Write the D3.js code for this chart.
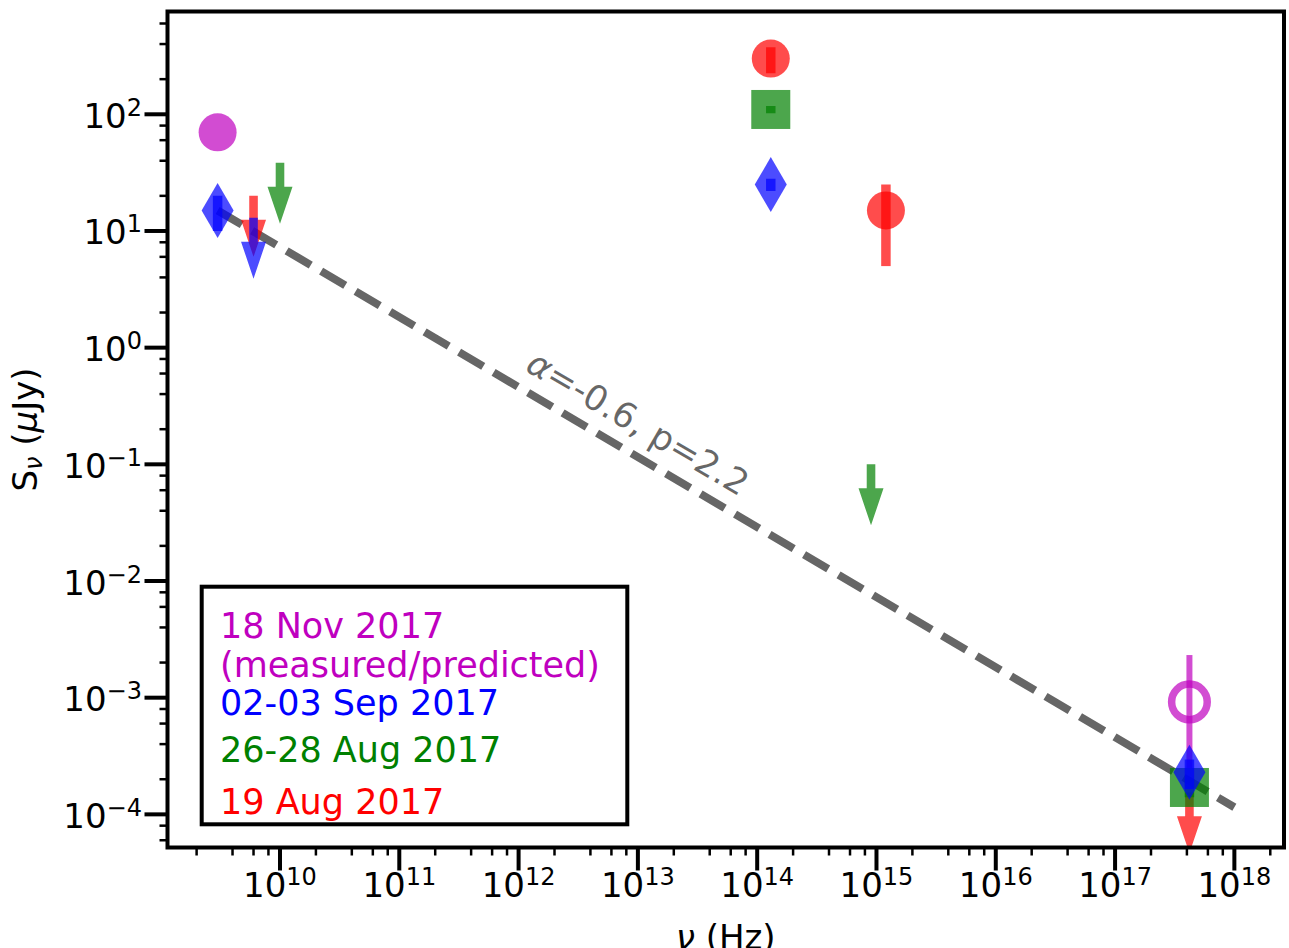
<!DOCTYPE html>
<html><head><meta charset="utf-8">
<script src="https://cdn.jsdelivr.net/npm/d3@7"></script>
<style>
body{margin:0;background:#fff}
svg{display:block;font-family:"DejaVu Sans",sans-serif}
</style>
</head><body>
<svg id="c" width="1289" height="948"></svg>
<script>
// ---------- data ----------
const xTickExps = [10, 11, 12, 13, 14, 15, 16, 17, 18];
const yTickExps = [-4, -3, -2, -1, 0, 1, 2];
const minorSubs = [2, 4, 6, 8];

// 19 Aug 2017 (red)
const redDetNu = [1.3e14, 1.2e15];
const redDetS = [300, 15];
const redDetErr = [75, 10];
const redLimNu = [6e9, 4.2e17];
const redLimS = [20, 1.55e-4];

// 26-28 Aug 2017 (green)
const greenDetNu = [1.3e14, 4.2e17];
const greenDetS = [110, 1.7e-4];
const greenDetErr = [8, 0.3e-4];
const greenLimNu = [1e10, 9e14];
const greenLimS = [38.5, 0.1];

// 02-03 Sep 2017 (blue)
const blueDetNu = [3e9, 1.3e14, 4.2e17];
const blueDetS = [15, 25, 2.3e-4];
const blueDetErr = [5, 3, 0.65e-4];
const blueLimNu = [6e9];
const blueLimS = [13];

// 18 Nov 2017 (magenta): measured radio, predicted X-ray
const magMeasNu = [3e9];
const magMeasS = [70];
const magPredNu = [4.2e17];
const magPredS = [9.2e-4];
const magPredErrUp = [1.4e-3];
const magPredErrDn = [6.7e-4];

// power law alpha=-0.6
const plawNu = [3e9, 1e18];
const plawS = [15, 1.15e-4];
const plawLabel = "=-0.6, p=2.2";

const legendLabels = ["18 Nov 2017", "(measured/predicted)", "02-03 Sep 2017", "26-28 Aug 2017", "19 Aug 2017"];
const legendColors = ["#bf00bf", "#bf00bf", "#0000ff", "#008000", "#ff0000"];

// ---------- layout ----------
const L = 167.5, R = 1284, T = 11.5, B = 847.5;
const svg = d3.select("#c");
const x = d3.scaleLog().domain([Math.pow(10, 9.057), Math.pow(10, 18.416)]).range([L, R]);
const y = d3.scaleLog().domain([Math.pow(10, -4.284), Math.pow(10, 2.881)]).range([B, T]);

const C = {red: "#ff0000", green: "#008000", blue: "#0000ff", mag: "#bf00bf"};
const A = 0.7;

svg.append("defs").append("clipPath").attr("id", "clip")
  .append("rect").attr("x", L).attr("y", T).attr("width", R - L).attr("height", B - T);

const plot = svg.append("g").attr("clip-path", "url(#clip)");

// power law line
plot.append("path")
  .attr("d", d3.line().x(d => x(d[0])).y(d => y(d[1]))(plawNu.map((n, i) => [n, plawS[i]])))
  .attr("stroke", "#000").attr("stroke-opacity", 0.6).attr("stroke-width", 8)
  .attr("stroke-dasharray", "28,12").attr("fill", "none");

// marker helpers
function errbar(g, nu, lo, hi, color, w) {
  g.append("line").attr("x1", x(nu)).attr("x2", x(nu)).attr("y1", y(hi)).attr("y2", y(lo))
    .attr("stroke", color).attr("stroke-opacity", A).attr("stroke-width", w);
}
function circle(g, nu, s, color) {
  g.append("circle").attr("cx", x(nu)).attr("cy", y(s)).attr("r", 19)
    .attr("fill", color).attr("fill-opacity", A);
}
function square(g, nu, s, color) {
  g.append("rect").attr("x", x(nu) - 19.5).attr("y", y(s) - 19.5).attr("width", 39).attr("height", 39)
    .attr("fill", color).attr("fill-opacity", A);
}
function diamond(g, nu, s, color) {
  const cx = x(nu), cy = y(s);
  g.append("path").attr("d", `M${cx},${cy - 27.5}L${cx + 16},${cy}L${cx},${cy + 27.5}L${cx - 16},${cy}Z`)
    .attr("fill", color).attr("fill-opacity", A);
}
function arrow(g, nu, s, color) {
  const cx = x(nu), y0 = y(s), sw = 4.3, hw = 12.5, sh = 24, hh = 37;
  g.append("path").attr("d",
    `M${cx - sw},${y0}L${cx + sw},${y0}L${cx + sw},${y0 + sh}L${cx + hw},${y0 + sh}L${cx},${y0 + sh + hh}L${cx - hw},${y0 + sh}L${cx - sw},${y0 + sh}Z`)
    .attr("fill", color).attr("fill-opacity", A);
}

// red
redLimNu.forEach((n, i) => arrow(plot, n, redLimS[i], C.red));
redDetNu.forEach((n, i) => {
  circle(plot, n, redDetS[i], C.red);
  errbar(plot, n, redDetS[i] - redDetErr[i], redDetS[i] + redDetErr[i], C.red, 9.5);
});
// green
greenLimNu.forEach((n, i) => arrow(plot, n, greenLimS[i], C.green));
greenDetNu.forEach((n, i) => {
  square(plot, n, greenDetS[i], C.green);
  errbar(plot, n, greenDetS[i] - greenDetErr[i], greenDetS[i] + greenDetErr[i], C.green, 9.5);
});
// magenta
magMeasNu.forEach((n, i) => circle(plot, n, magMeasS[i], C.mag));
magPredNu.forEach((n, i) => {
  errbar(plot, n, magPredS[i] - magPredErrDn[i], magPredS[i] + magPredErrUp[i], C.mag, 6);
  plot.append("circle").attr("cx", x(n)).attr("cy", y(magPredS[i])).attr("r", 17.8)
    .attr("fill", "none").attr("stroke", C.mag).attr("stroke-opacity", A).attr("stroke-width", 7.5);
});
// blue
blueLimNu.forEach((n, i) => arrow(plot, n, blueLimS[i], C.blue));
blueDetNu.forEach((n, i) => {
  diamond(plot, n, blueDetS[i], C.blue);
  errbar(plot, n, blueDetS[i] - blueDetErr[i], blueDetS[i] + blueDetErr[i], C.blue, 9.5);
});

// power-law label
{
  const ang = Math.atan2(y(plawS[1]) - y(plawS[0]), x(plawNu[1]) - x(plawNu[0])) * 180 / Math.PI;
  const tx = x(1e13), ty = y(0.226);
  const t = svg.append("text").attr("transform", `translate(${tx},${ty}) rotate(${ang})`)
    .attr("text-anchor", "middle").attr("dominant-baseline", "central")
    .attr("font-size", 35).attr("fill", "#000").attr("fill-opacity", 0.6);
  t.append("tspan").attr("font-style", "italic").text("α");
  t.append("tspan").text(plawLabel);
}

// ---------- axes ----------
const axes = svg.append("g");
// x ticks
const xMajor = xTickExps.map(e => Math.pow(10, e));
const xMinor = [];
for (let e = 9; e <= 18; e++) minorSubs.forEach(s => { const v = s * Math.pow(10, e); if (v >= x.domain()[0] && v <= x.domain()[1]) xMinor.push(v); });
axes.selectAll(".xmin").data(xMinor).enter().append("line")
  .attr("x1", d => x(d)).attr("x2", d => x(d)).attr("y1", B).attr("y2", B + 8)
  .attr("stroke", "#000").attr("stroke-width", 2.5);
axes.selectAll(".xmaj").data(xMajor).enter().append("line")
  .attr("x1", d => x(d)).attr("x2", d => x(d)).attr("y1", B).attr("y2", B + 23)
  .attr("stroke", "#000").attr("stroke-width", 4);
xTickExps.forEach(e => {
  const t = axes.append("text").attr("x", x(Math.pow(10, e))).attr("y", 897)
    .attr("text-anchor", "middle").attr("font-size", 34).attr("fill", "#000");
  t.append("tspan").text("10");
  t.append("tspan").attr("font-size", 24).attr("dy", -12).text(String(e));
});
// y ticks
const yMajor = yTickExps.map(e => Math.pow(10, e));
const yMinor = [];
for (let e = -5; e <= 2; e++) minorSubs.forEach(s => { const v = s * Math.pow(10, e); if (v >= y.domain()[0] && v <= y.domain()[1]) yMinor.push(v); });
axes.selectAll(".ymin").data(yMinor).enter().append("line")
  .attr("x1", L - 8).attr("x2", L).attr("y1", d => y(d)).attr("y2", d => y(d))
  .attr("stroke", "#000").attr("stroke-width", 2.5);
axes.selectAll(".ymaj").data(yMajor).enter().append("line")
  .attr("x1", L - 23).attr("x2", L).attr("y1", d => y(d)).attr("y2", d => y(d))
  .attr("stroke", "#000").attr("stroke-width", 4);
yTickExps.forEach(e => {
  const t = axes.append("text").attr("x", 142).attr("y", y(Math.pow(10, e)) + 13.5)
    .attr("text-anchor", "end").attr("font-size", 34).attr("fill", "#000");
  t.append("tspan").text("10");
  t.append("tspan").attr("font-size", 24).attr("dy", -12).text(e < 0 ? "\u2212" + Math.abs(e) : String(e));
});

// spines
svg.append("rect").attr("x", L).attr("y", T).attr("width", R - L).attr("height", B - T)
  .attr("fill", "none").attr("stroke", "#000").attr("stroke-width", 4);

// axis labels
{
  const t = svg.append("text").attr("x", (L + R) / 2).attr("y", 949).attr("text-anchor", "middle")
    .attr("font-size", 34).attr("fill", "#000");
  t.append("tspan").attr("font-style", "italic").text("ν");
  t.append("tspan").text(" (Hz)");
}
{
  const t = svg.append("text").attr("transform", `translate(37,${(T + B) / 2}) rotate(-90)`)
    .attr("text-anchor", "middle").attr("font-size", 34).attr("fill", "#000");
  t.append("tspan").text("S");
  t.append("tspan").attr("font-size", 24).attr("font-style", "italic").attr("dy", 5).text("ν");
  t.append("tspan").attr("dy", -5).text(" (");
  t.append("tspan").attr("font-style", "italic").text("μ");
  t.append("tspan").text("Jy)");
}

// legend
const lg = svg.append("g");
lg.append("rect").attr("x", 201.7).attr("y", 586.7).attr("width", 425.6).attr("height", 237.6)
  .attr("fill", "#fff").attr("stroke", "#000").attr("stroke-width", 4);
const legendBaselines = [638, 677, 715, 762, 814];
legendLabels.forEach((lab, i) => {
  lg.append("text").attr("x", 220).attr("y", legendBaselines[i]).attr("font-size", 35)
    .attr("fill", legendColors[i]).text(lab);
});
</script>
</body></html>
